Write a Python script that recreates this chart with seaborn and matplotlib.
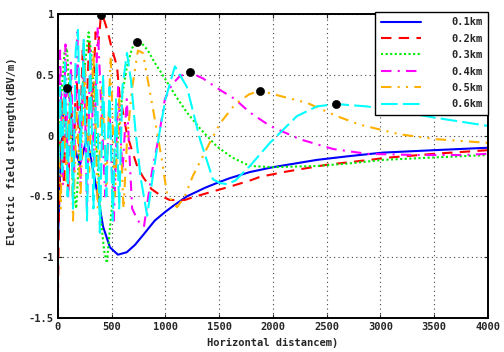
import matplotlib
matplotlib.use("Agg")
import matplotlib.pyplot as plt
import seaborn as sns

# ---- data ----
labels = ["0.1km", "0.2km", "0.3km", "0.4km", "0.5km", "0.6km"]

x_01 = [0, 25, 55, 84, 110, 140, 177, 205, 240, 270, 320, 372, 420, 484, 558, 640, 716,
        800, 900, 995, 1070, 1200, 1367, 1479, 1600, 1786, 2000, 2409, 2700, 3023, 3500, 4000]
y_01 = [-0.85, -0.2, 0.25, 0.39, 0.30, -0.05, -0.17, -0.24, -0.12, -0.02, -0.25, -0.5, -0.75,
        -0.92, -0.98, -0.96, -0.90, -0.81, -0.70, -0.63, -0.58, -0.50, -0.43, -0.39, -0.35,
        -0.30, -0.26, -0.20, -0.17, -0.14, -0.12, -0.10]

x_02 = [0, 15, 35, 55, 75, 95, 120, 145, 170, 200, 230, 260, 290, 320, 350, 375, 400, 430,
        465, 500, 549, 577, 595, 640, 688, 740, 791, 870, 967, 1040, 1116, 1180, 1247, 1400,
        1600, 1786, 1879, 2100, 2300, 2502, 2800, 3088, 3500, 4000]
y_02 = [-1.3, -0.2, 0.3, -0.4, 0.2, -0.5, 0.4, -0.3, 0.6, -0.2, 0.7, 0.0, 0.8, 0.2, 0.85,
        0.75, 0.99, 0.95, 0.85, 0.72, 0.57, 0.30, 0.24, 0.02, -0.12, -0.26, -0.34, -0.44,
        -0.50, -0.53, -0.53, -0.53, -0.51, -0.47, -0.42, -0.37, -0.34, -0.30, -0.27, -0.24,
        -0.21, -0.18, -0.15, -0.12]

x_03 = [0, 30, 60, 84, 110, 140, 170, 200, 240, 285, 320, 360, 400, 430, 455, 500, 560, 600,
        642, 690, 735, 790, 837, 900, 995, 1100, 1200, 1330, 1479, 1620, 1786, 2000, 2409,
        2700, 3023, 3500, 4000]
y_03 = [-0.35, 0.3, 0.68, 0.72, 0.3, -0.4, -0.6, -0.1, 0.5, 0.85, 0.6, -0.1, -0.7, -0.95,
        -1.05, -0.6, 0.0, 0.35, 0.57, 0.72, 0.77, 0.75, 0.70, 0.60, 0.47, 0.32, 0.19, 0.05,
        -0.09, -0.18, -0.25, -0.26, -0.25, -0.23, -0.20, -0.18, -0.16]

x_04 = [0, 20, 45, 70, 95, 120, 150, 180, 210, 240, 270, 300, 335, 370, 400, 440, 480, 520,
        560, 600, 640, 690, 744, 800, 874, 940, 995, 1060, 1135, 1228, 1350, 1500, 1647, 1786,
        1972, 2251, 2558, 2874, 3340, 3767, 4000]
y_04 = [-0.2, 0.7, -0.4, 0.75, -0.5, 0.6, -0.3, 0.85, -0.4, 0.8, -0.6, 0.7, -0.2, 0.9, 0.3,
        -0.5, 0.2, -0.7, 0.4, -0.3, 0.3, -0.6, -0.7, -0.75, -0.3, 0.0, 0.3, 0.42, 0.49, 0.52,
        0.47, 0.38, 0.30, 0.19, 0.08, -0.03, -0.11, -0.15, -0.16, -0.16, -0.15]

x_05 = [0, 25, 50, 80, 110, 140, 175, 210, 250, 290, 330, 370, 410, 450, 490, 530, 570, 610,
        642, 688, 744, 790, 884, 967, 1014, 1107, 1180, 1256, 1400, 1507, 1650, 1780, 1880,
        2093, 2316, 2595, 2809, 3181, 3526, 4000]
y_05 = [0.1, -0.6, 0.3, -0.4, 0.5, -0.7, 0.2, -0.5, 0.6, -0.3, 0.7, -0.6, 0.4, -0.4, 0.65,
        -0.5, 0.3, -0.6, -0.05, 0.38, 0.70, 0.68, 0.22, -0.2, -0.48, -0.59, -0.5, -0.33,
        -0.08, 0.10, 0.26, 0.34, 0.37, 0.32, 0.27, 0.16, 0.09, 0.01, -0.03, -0.06]

x_06 = [0, 20, 40, 65, 90, 115, 140, 165, 186, 210, 240, 270, 300, 330, 360, 390, 420, 450,
        480, 510, 540, 570, 600, 642, 680, 720, 770, 830, 880, 940, 1000, 1088, 1200, 1321,
        1442, 1507, 1572, 1650, 1786, 1972, 2223, 2409, 2586, 2874, 3181, 3488, 4000]
y_06 = [-0.4, 0.4, -0.3, 0.6, -0.5, 0.5, -0.6, 0.7, 0.87, -0.2, 0.8, -0.7, 0.7, -0.6, 0.6,
        -0.8, 0.5, -0.5, 0.4, -0.7, 0.3, -0.6, 0.4, 0.68, 0.45, 0.05, -0.35, -0.66, -0.35,
        0.0, 0.3, 0.57, 0.40, -0.03, -0.36, -0.39, -0.40, -0.37, -0.25, -0.06, 0.16, 0.24,
        0.26, 0.24, 0.20, 0.15, 0.08]

peak_x = [84, 400, 735, 1228, 1880, 2586]
peak_y = [0.39, 0.99, 0.77, 0.52, 0.37, 0.26]

x_ticks = [0, 500, 1000, 1500, 2000, 2500, 3000, 3500, 4000]
y_ticks = [-1.5, -1, -0.5, 0, 0.5, 1]
y_tick_labels = ["-1.5", "-1", "-0.5", "0", "0.5", "1"]

series = [(x_01, y_01), (x_02, y_02), (x_03, y_03), (x_04, y_04), (x_05, y_05), (x_06, y_06)]
colors = ["#0000ff", "#ff0000", "#00ee00", "#ff00ff", "#ffb000", "#00ffff"]
styles = ["-", (0, (5, 3.5)), (0, (1, 1.2)), (0, (5, 3, 1, 3)), (0, (5, 3, 1, 3, 1, 3)),
          (0, (8, 2.5))]

sns.set_style("ticks")
plt.rcParams["font.family"] = ["DejaVu Sans Mono", "DejaVu Sans"]
plt.rcParams["font.weight"] = "bold"

fig, ax = plt.subplots(figsize=(5.04, 3.52), dpi=100)
fig.subplots_adjust(left=0.115, right=0.968, bottom=0.097, top=0.960)

for (xs, ys), lab, col, ls in zip(series, labels, colors, styles):
    sns.lineplot(x=xs, y=ys, ax=ax, color=col, linestyle=ls, linewidth=1.5, label=lab,
                 sort=False)

sns.scatterplot(x=peak_x, y=peak_y, ax=ax, color="black", s=34, edgecolor="black",
                zorder=5, legend=False)

ax.set_xlim(0, 4000)
ax.set_ylim(-1.5, 1)
ax.set_xticks(x_ticks)
ax.set_yticks(y_ticks)
ax.set_yticklabels(y_tick_labels)
ax.tick_params(direction="in", top=True, right=True, length=3, labelsize=7.5, pad=3)
for lab in ax.get_xticklabels() + ax.get_yticklabels():
    lab.set_fontweight("bold")
ax.grid(True, linestyle=(0, (1, 3)), color="#444444", linewidth=0.8)
for sp in ax.spines.values():
    sp.set_color("black")
    sp.set_linewidth(1.4)

ax.set_xlabel("Horizontal distancem)", fontsize=7.5, fontweight="bold", labelpad=4)
ax.set_ylabel("Electric field strength(dBV/m)", fontsize=7.5, fontweight="bold", labelpad=4)
ax.yaxis.set_label_coords(-0.095, 0.55)

leg = ax.legend(loc="upper right", bbox_to_anchor=(1.0, 1.007), borderaxespad=0,
                fontsize=7.5, handlelength=3.9, handletextpad=2.9, labelspacing=0.62,
                fancybox=False, framealpha=1, edgecolor="black", borderpad=0.5)
leg.get_frame().set_linewidth(1.0)
for t in leg.get_texts():
    t.set_fontweight("bold")

fig.savefig("out.png", dpi=100)
